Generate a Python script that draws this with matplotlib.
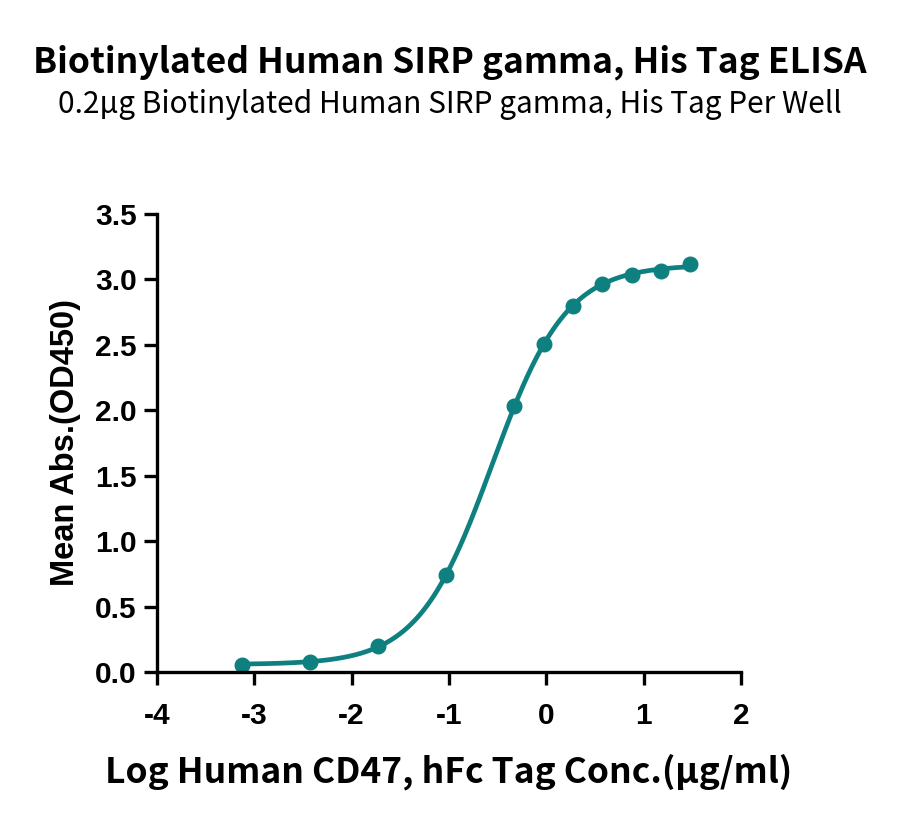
import numpy as np
import matplotlib
matplotlib.use("Agg")
import matplotlib.pyplot as plt

# valores
log_conc = [-3.125, -2.426, -1.727, -1.028, -0.329, -0.028, 0.273, 0.574, 0.875, 1.176, 1.477]
absorb = [0.055, 0.080, 0.200, 0.740, 2.030, 2.505, 2.800, 2.965, 3.035, 3.065, 3.115]
x_ticks = [-4, -3, -2, -1, 0, 1, 2]
y_ticks = [0.0, 0.5, 1.0, 1.5, 2.0, 2.5, 3.0, 3.5]

titulo = "Biotinylated Human SIRP gamma, His Tag ELISA"
subtitulo = "0.2\u03bcg Biotinylated Human SIRP gamma, His Tag Per Well"
x_label = "Log Human CD47, hFc Tag Conc.(\u03bcg/ml)"
y_label = "Mean Abs.(OD450)"

cor = "#0f8080"
fonte_cjk = ["Noto Sans CJK SC", "DejaVu Sans"]

x = np.array(log_conc)
y = np.array(absorb)


# ajuste 4PL simples (gauss-newton)
def f4pl(p, xx):
    bot, top, ec, h = p
    return bot + (top - bot) / (1 + 10 ** ((ec - xx) * h))


p = np.array([0.05, 3.1, -0.6, 1.2])
for i in range(200):
    r = y - f4pl(p, x)
    J = np.zeros((len(x), 4))
    for k in range(4):
        dp = np.zeros(4)
        dp[k] = 1e-6
        J[:, k] = (f4pl(p + dp, x) - f4pl(p, x)) / 1e-6
    passo = np.linalg.lstsq(J, r, rcond=None)[0]
    p = p + 0.5 * passo

xs = np.linspace(x.min(), x.max(), 400)

fig = plt.figure(figsize=(9, 8.24), dpi=100)
ax = fig.add_axes([0.1744, 0.1845, 0.649, 0.5558])

ax.plot(xs, f4pl(p, xs), color=cor, lw=3.4, solid_capstyle="round")
ax.plot(x, y, "o", color=cor, ms=10.5)

ax.set_xlim(-4, 2)
ax.set_ylim(0, 3.5)
ax.set_xticks(x_ticks)
ax.set_yticks(y_ticks)
ax.set_xticklabels([str(t) for t in x_ticks])
ax.set_yticklabels([f"{t:.1f}" for t in y_ticks])

for s in ["top", "right"]:
    ax.spines[s].set_visible(False)
for s in ["left", "bottom"]:
    ax.spines[s].set_linewidth(2.4)
ax.tick_params(width=2.4, length=9.5, labelsize=21.5, pad=5)
ax.tick_params(axis="x", pad=12)
for lab in ax.get_xticklabels() + ax.get_yticklabels():
    lab.set_fontfamily("Liberation Sans")
    lab.set_fontweight("bold")
for l in ax.lines:
    l.set_clip_on(False)

ax.set_ylabel(y_label, fontsize=23.5, fontweight="bold", family="Liberation Sans", labelpad=10)
ax.set_xlabel(x_label, fontsize=25.5, fontweight="bold", family=fonte_cjk, labelpad=17)

fig.text(0.5, 0.925, titulo, ha="center", va="center", fontsize=25.5, fontweight="bold",
         family=fonte_cjk)
fig.text(0.5, 0.873, subtitulo, ha="center", va="center", fontsize=21.5,
         family=fonte_cjk)

fig.savefig("out.png", dpi=100)
